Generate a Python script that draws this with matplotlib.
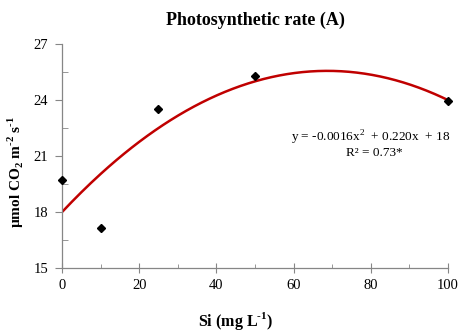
import numpy as np
import matplotlib
matplotlib.use("Agg")
import matplotlib.pyplot as plt
from matplotlib.ticker import MultipleLocator

# Si dose (mg L-1) and measured photosynthetic rate
si_dose = [0, 10, 25, 50, 100]
photo_rate = [19.7, 17.15, 23.5, 25.3, 23.95]

# quadratic fit coefficients: y = a*x^2 + b*x + c
coef_a = -0.0016
coef_b = 0.220
coef_c = 18.0

plt.rcParams.update({
    "font.family": ["Liberation Serif", "DejaVu Serif"],
    "mathtext.fontset": "custom",
    "mathtext.rm": "Liberation Serif",
    "mathtext.bf": "Liberation Serif:bold",
})

fig = plt.figure(figsize=(4.68, 3.31), dpi=100)
ax = fig.add_axes([0.1325, 0.19, 0.8245, 0.677])

x_fit = np.linspace(0, 100, 200)
y_fit = coef_a * x_fit**2 + coef_b * x_fit + coef_c
ax.plot(x_fit, y_fit, color="#C00000", linewidth=1.8, zorder=2)
ax.plot(si_dose, photo_rate, linestyle="none", marker="D", markersize=4.5,
        color="black", zorder=3, clip_on=False)

ax.set_xlim(0, 100)
ax.set_ylim(15, 27)
ax.xaxis.set_major_locator(MultipleLocator(20))
ax.xaxis.set_minor_locator(MultipleLocator(10))
ax.yaxis.set_major_locator(MultipleLocator(3))
ax.yaxis.set_minor_locator(MultipleLocator(1.5))

for side in ["top", "right"]:
    ax.spines[side].set_visible(False)
for side in ["left", "bottom"]:
    ax.spines[side].set_color("#868686")
    ax.spines[side].set_linewidth(0.9)

ax.tick_params(axis="x", which="major", direction="inout", length=7,
               color="#868686", labelsize=10.5, pad=4)
ax.tick_params(axis="x", which="minor", direction="in", length=3,
               color="#868686")
ax.tick_params(axis="y", which="major", direction="out", length=5,
               color="#868686", labelsize=10.5, pad=5)
ax.tick_params(axis="y", which="minor", direction="in", length=4,
               color="#868686")

ax.set_title("Photosynthetic rate (A)", fontsize=13, fontweight="bold", pad=14)
ax.set_xlabel(r"Si (mg L$^{\mathbf{\text{-}1}}$)", fontsize=11.5, fontweight="bold")
ax.set_ylabel(r"µmol CO$_{\mathbf{2}}$ m$^{\mathbf{\text{-}2}}$ s$^{\mathbf{\text{-}1}}$",
              fontsize=11, fontweight="bold")
ax.xaxis.set_label_coords(0.45, -0.185)
ax.yaxis.set_label_coords(-0.093, 0.43)

ax.text(0.80, 0.582, r"y = -0.0016x$^{2}$  + 0.220x  + 18",
        transform=ax.transAxes, ha="center", va="center", fontsize=9.5)
ax.text(0.81, 0.515, "R² = 0.73*", transform=ax.transAxes,
        ha="center", va="center", fontsize=9.5)

fig.savefig("out.png", dpi=100)
